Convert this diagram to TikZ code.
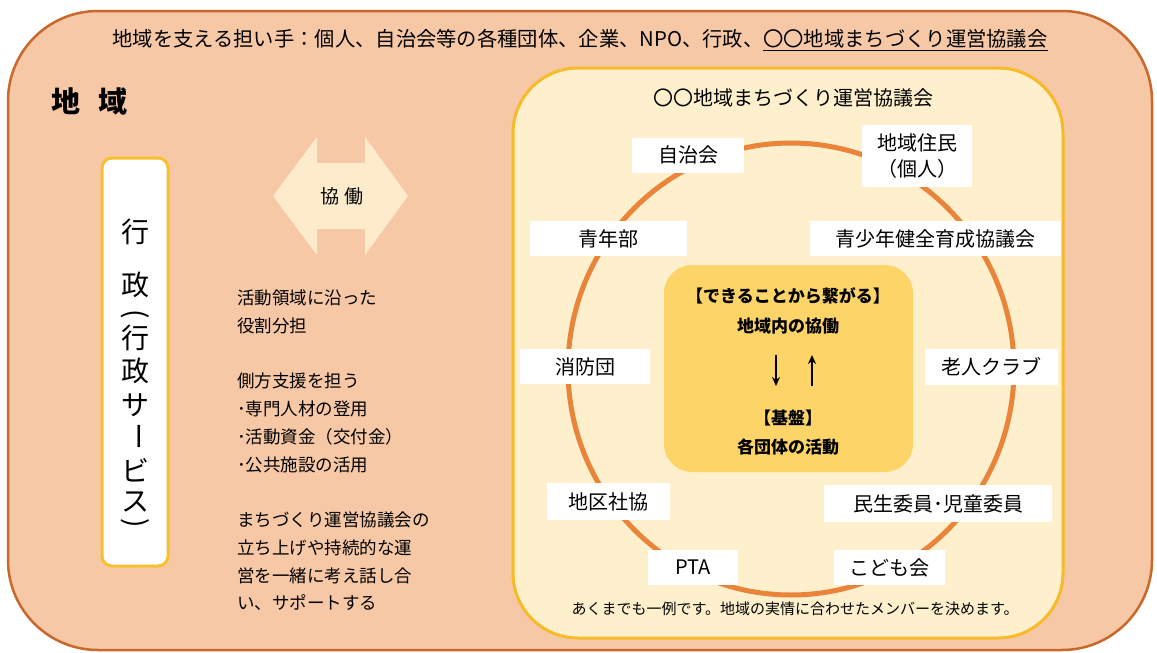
\documentclass[tikz,border=0pt]{standalone}
\usepackage{fontspec}
\setmainfont{Noto Sans CJK JP}
\usetikzlibrary{arrows.meta,shapes.geometric}
\definecolor{outerfill}{HTML}{F6C8A6}
\definecolor{outerline}{HTML}{C8682A}
\definecolor{innerfill}{HTML}{FFF0CD}
\definecolor{innerline}{HTML}{F7BB2A}
\definecolor{ringcol}{HTML}{E9843A}
\definecolor{corefill}{HTML}{FDD468}
\definecolor{arrowfill}{HTML}{FDEBCB}
\definecolor{gyoline}{HTML}{F8C030}
\newcommand{\fs}[1]{\fontsize{#1}{#1}\selectfont}
\begin{document}
\begin{tikzpicture}[x=1pt,y=-1pt,
  lbl/.style={fill=white, inner sep=0pt, minimum height=35, font=\fs{20}},
  para/.style={anchor=west, inner sep=0pt, font=\fs{17.5}},
  vchar/.style={inner sep=0pt, font=\fs{28}},
  coretxt/.style={inner sep=0pt, font=\bfseries\fs{17}},
  updown/.style={-{Stealth[length=9,width=8]}, line width=2.4, black}]
\useasboundingbox (0,0) rectangle (1157,653);
% outer region
\draw[fill=outerfill, draw=outerline, line width=2.5, rounded corners=90] (8,11) rectangle (1152,650);
\node[inner sep=0pt, font=\fs{20.3}] (header) at (580,40) {地域を支える担い手：個人、自治会等の各種団体、企業、NPO、行政、\underline{〇〇地域まちづくり運営協議会}};
\node[anchor=west, inner sep=0pt, font=\bfseries\fs{29}] (chiiki) at (51,101) {地\hspace{18pt}域};
% gyosei box
\node[draw=gyoline, fill=white, line width=3, rounded corners=10, minimum width=66, minimum height=408, inner sep=0pt] (gyosei) at (135,362) {};
\foreach \c/\yy [count=\i] in {行/232, 政/285, 行/338, 政/371, サ/405, ビ/470, ス/502}
  \node[vchar] (v\i) at (135,\yy) {\c};
\node[vchar, rotate=-90] (vbar) at (135,436) {ー};
\node[vchar, rotate=-90] (vopen) at (135,314) {(};
\node[vchar, rotate=-90] (vclose) at (135,523) {)};
% collaboration arrow
\fill[arrowfill] (273,196) -- (317,137) -- (317,163) -- (365,163) -- (365,137) -- (408,196)
  -- (365,255) -- (365,229) -- (317,229) -- (317,255) -- cycle;
\node[inner sep=0pt, font=\fs{19}] (kyodo) at (342,196) {協\hspace{5pt}働};
% left explanation
\foreach \t/\yy [count=\i] in {活動領域に沿った/298, 役割分担/326, 側方支援を担う/381, ･専門人材の登用/409, ･活動資金（交付金）/437, ･公共施設の活用/465, まちづくり運営協議会の/520, 立ち上げや持続的な運/548, 営を一緒に考え話し合/576, い、サポートする/603}
  \node[para] (p\i) at (237,\yy) {\t};
% council box
\node[draw=innerline, fill=innerfill, line width=3, rounded corners=65, minimum width=550, minimum height=570, inner sep=0pt] (council) at (788,353) {};
\node[inner sep=0pt, font=\fs{20}] (ctitle) at (793,98) {〇〇地域まちづくり運営協議会};
\node[draw=ringcol, line width=5, ellipse, minimum width=446, minimum height=452, inner sep=0pt] (ring) at (791,369) {};
% core
\node[fill=corefill, rounded corners=28, minimum width=249, minimum height=207, inner sep=0pt] (core) at (788.5,368.5) {};
\node[coretxt] (c1) at (788,296) {【できることから繋がる】};
\node[coretxt] (c2) at (788,326) {地域内の協働};
\node[coretxt] (c3) at (788,418) {【基盤】};
\node[coretxt] (c4) at (788,447) {各団体の活動};
\coordinate (dtop) at (776,355);
\coordinate (dbot) at (776,386);
\coordinate (utop) at (812,355);
\coordinate (ubot) at (812,386);
\draw[updown] (dtop) -- (dbot);
\draw[updown] (ubot) -- (utop);
% member labels
\node[lbl, minimum width=112] (jichikai) at (688,155) {自治会};
\node[lbl, minimum width=110, minimum height=62, align=center, font=\fontsize{20}{26}\selectfont] (jumin) at (917,156) {地域住民\\（個人）};
\node[lbl, minimum width=157] (seinen) at (608.5,238.5) {青年部};
\node[lbl, minimum width=251] (seishonen) at (935.5,238.5) {青少年健全育成協議会};
\node[lbl, minimum width=130] (shobo) at (585,366.5) {消防団};
\node[lbl, minimum width=133, minimum height=36] (rojin) at (991.5,367) {老人クラブ};
\node[lbl, minimum width=123, minimum height=37] (chiku) at (608.5,501.5) {地区社協};
\node[lbl, minimum width=228, minimum height=37] (minsei) at (938,503.5) {民生委員･児童委員};
\node[lbl, minimum width=90] (pta) at (693,567.5) {PTA};
\node[lbl, minimum width=111] (kodomo) at (889.5,567.5) {こども会};
\node[inner sep=0pt, font=\fs{15}] (note) at (795,609) {あくまでも一例です。地域の実情に合わせたメンバーを決めます。};
\end{tikzpicture}
\end{document}
